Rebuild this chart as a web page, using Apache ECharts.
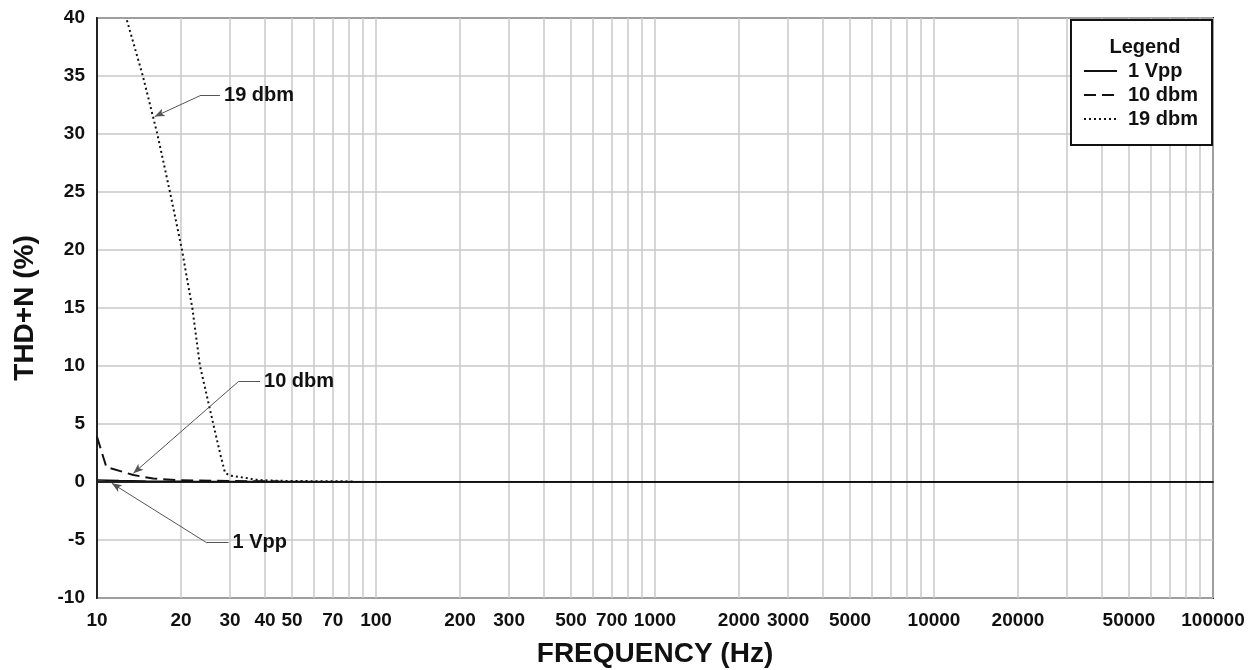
<!DOCTYPE html>
<html>
<head>
<meta charset="utf-8">
<script src="https://cdn.jsdelivr.net/npm/echarts@6/dist/echarts.min.js"></script>
<style>html,body{margin:0;padding:0;background:#fff}#c{width:1257px;height:670px}</style>
</head>
<body>
<div id="c"></div>
<script>
// ---- data ----
const seriesNames = ['1 Vpp', '10 dbm', '19 dbm'];
const freq1Vpp = [10, 12, 15, 20, 30, 50, 100, 1000, 10000, 100000];
const thd1Vpp  = [0.17, 0.12, 0.08, 0.06, 0.05, 0.04, 0.03, 0.03, 0.03, 0.03];
const freq10dbm = [10, 10.8, 13.5, 15.9, 19.8, 30, 45];
const thd10dbm  = [3.9, 1.3, 0.6, 0.3, 0.15, 0.08, 0.05];
const freq19dbm = [12.8, 14.6, 16.45, 18.26, 20.17, 21.07, 21.96, 23.4, 26.11, 27.6, 28.76, 30, 32.1, 33.9, 35.8, 37.9, 45, 60, 83];
const thd19dbm  = [39.8, 35, 30, 25, 20, 17.4, 15, 10, 5, 2.5, 0.8, 0.55, 0.45, 0.37, 0.26, 0.17, 0.1, 0.07, 0.05];
const xTickLabels = [10, 20, 30, 40, 50, 70, 100, 200, 300, 500, 700, 1000, 2000, 3000, 5000, 10000, 20000, 50000, 100000];
const xGridFreqs = [];
[10, 100, 1000, 10000].forEach(d => { for (let m = 1; m <= 9; m++) xGridFreqs.push(d * m); });
xGridFreqs.push(100000);
const yMin = -10, yMax = 40, yStep = 5;
// annotation leader lines: [tip, elbow, end] in data coords
const ann19 = [[16.1, 31.5], [23.4, 33.3], [27.6, 33.3]];
const ann10 = [[13.5, 0.75], [32.1, 8.65], [38.4, 8.65]];
const ann1  = [[11.3, -0.11], [24.7, -5.23], [29.6, -5.23]];

const FONT = 'Liberation Sans, Arial, sans-serif';
const INK = '#111';

function zip(a, b) { return a.map((v, i) => [v, b[i]]); }
function leader(pts, text) {
  return {
    silent: true,
    animation: false,
    lineStyle: { color: '#555', width: 1, type: 'solid' },
    data: [
      [{ coord: pts[0], symbol: 'arrow', symbolSize: [6, 10] }, { coord: pts[1], symbol: 'none' }],
      [{ coord: pts[1], symbol: 'none' }, { coord: pts[2], symbol: 'none',
        label: { show: true, position: 'end', formatter: text, color: INK, fontFamily: FONT,
                 fontWeight: 'bold', fontSize: 20, distance: 4 } }]
    ],
    label: { show: false }
  };
}

const chart = echarts.init(document.getElementById('c'), null, { renderer: 'canvas' });
chart.setOption({
  animation: false,
  backgroundColor: '#fff',
  title: {
    text: 'Legend', left: 1140, top: 32, textAlign: 'center',
    textStyle: { fontFamily: FONT, fontWeight: 'bold', fontSize: 20, color: INK }
  },
  legend: {
    data: seriesNames,
    orient: 'vertical',
    right: 45, top: 20,
    padding: [41, 14, 16, 12],
    itemWidth: 33, itemHeight: 14, itemGap: 4,
    borderColor: '#111', borderWidth: 2,
    backgroundColor: '#fff',
    itemStyle: { opacity: 0 },
    textStyle: { fontFamily: FONT, fontWeight: 'bold', fontSize: 20, color: INK, padding: [0, 0, 0, 6] },
    selectedMode: false
  },
  grid: {
    left: 97, right: 44, top: 18, bottom: 72,
    show: true, borderColor: '#222', borderWidth: 2, containLabel: false,
    outerBoundsMode: 'none'
  },
  xAxis: {
    type: 'log', logBase: 10, min: 10, max: 100000,
    name: 'FREQUENCY (Hz)', nameLocation: 'middle', nameGap: 42,
    nameTextStyle: { fontFamily: FONT, fontWeight: 'bold', fontSize: 28, color: INK },
    axisLine: { show: true, lineStyle: { color: '#222', width: 2 } },
    axisTick: { show: false, customValues: xGridFreqs },
    splitLine: { show: true, lineStyle: { color: '#c8c8c8', width: 1.5 } },
    axisLabel: {
      customValues: xTickLabels, fontFamily: FONT, fontWeight: 'bold', fontSize: 19, color: INK,
      margin: 13, formatter: v => String(v), showMinLabel: true, showMaxLabel: true
    }
  },
  yAxis: {
    type: 'value', min: yMin, max: yMax, interval: yStep,
    name: 'THD+N (%)', nameLocation: 'middle', nameGap: 58, nameRotate: 90,
    nameTextStyle: { fontFamily: FONT, fontWeight: 'bold', fontSize: 28, color: INK },
    axisLine: { show: true, lineStyle: { color: '#222', width: 2 } },
    axisTick: { show: false },
    splitLine: { show: true, lineStyle: { color: '#c8c8c8', width: 1.5 } },
    axisLabel: { fontFamily: FONT, fontWeight: 'bold', fontSize: 19, color: INK, margin: 12, padding: [4, 0, 0, 0] }
  },
  series: [
    {
      name: seriesNames[0], type: 'line', data: zip(freq1Vpp, thd1Vpp),
      symbol: 'none', smooth: false, clip: true,
      lineStyle: { color: INK, width: 1.5, type: 'solid' }, itemStyle: { color: INK },
      markLine: leader(ann1, '1 Vpp')
    },
    {
      name: seriesNames[1], type: 'line', data: zip(freq10dbm, thd10dbm),
      symbol: 'none', clip: true,
      lineStyle: { color: INK, width: 2, type: [12, 6] }, itemStyle: { color: INK },
      markLine: leader(ann10, '10 dbm')
    },
    {
      name: seriesNames[2], type: 'line', data: zip(freq19dbm, thd19dbm),
      symbol: 'none', clip: true,
      lineStyle: { color: INK, width: 2, type: [2, 3] }, itemStyle: { color: INK },
      markLine: leader(ann19, '19 dbm')
    }
  ]
});
</script>
</body>
</html>
